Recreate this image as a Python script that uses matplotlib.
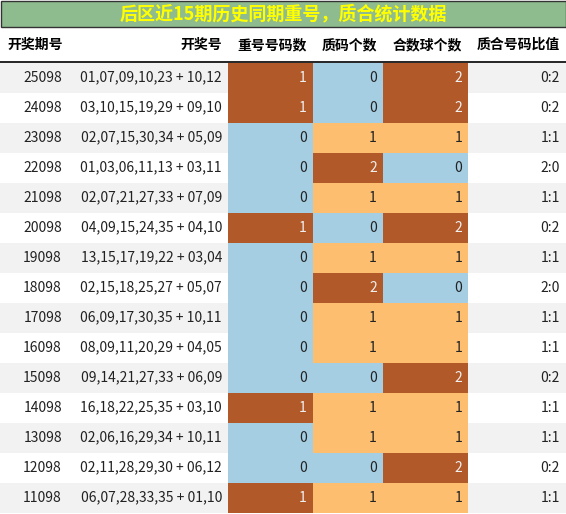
import matplotlib.pyplot as plt
from matplotlib.patches import Rectangle

plt.rcParams['font.family'] = ['Noto Sans CJK SC', 'DejaVu Sans']

title = '后区近15期历史同期重号，质合统计数据'
headers = ['开奖期号', '开奖号', '重号号码数', '质码个数', '合数球个数', '质合号码比值']
periods = ['25098', '24098', '23098', '22098', '21098', '20098', '19098', '18098',
           '17098', '16098', '15098', '14098', '13098', '12098', '11098']
numbers = ['01,07,09,10,23 + 10,12', '03,10,15,19,29 + 09,10', '02,07,15,30,34 + 05,09',
           '01,03,06,11,13 + 03,11', '02,07,21,27,33 + 07,09', '04,09,15,24,35 + 04,10',
           '13,15,17,19,22 + 03,04', '02,15,18,25,27 + 05,07', '06,09,17,30,35 + 10,11',
           '08,09,11,20,29 + 04,05', '09,14,21,27,33 + 06,09', '16,18,22,25,35 + 03,10',
           '02,06,16,29,34 + 10,11', '02,11,28,29,30 + 06,12', '06,07,28,33,35 + 01,10']
repeat = [1, 1, 0, 0, 0, 1, 0, 0, 0, 0, 0, 1, 0, 0, 1]
prime = [0, 0, 1, 2, 1, 0, 1, 2, 1, 1, 0, 1, 1, 0, 1]
composite = [2, 2, 1, 0, 1, 2, 1, 0, 1, 1, 2, 1, 1, 2, 1]
ratio = ['0:2', '0:2', '1:1', '2:0', '1:1', '0:2', '1:1', '2:0',
         '1:1', '1:1', '0:2', '1:1', '1:1', '0:2', '1:1']

BLUE, ORANGE, BROWN = '#a6cee3', '#fdbf6f', '#b15928'

def cell_color(v, vals):
    lo, hi = min(vals), max(vals)
    if v == hi:
        return BROWN
    if v == lo:
        return BLUE
    return ORANGE

W, H = 566, 514
fig = plt.figure(figsize=(W / 100, H / 100), dpi=100)
ax = fig.add_axes([0, 0, 1, 1])
ax.set_xlim(0, W)
ax.set_ylim(H, 0)
ax.axis('off')

# title bar
ax.add_patch(Rectangle((0.5, 0.5), W - 1, 26, facecolor='#8fbc8f', edgecolor='#333333', lw=1))
ax.text(W / 2, 14, title, color='#ffff00', fontsize=13, fontweight='bold', ha='center', va='center')

col_x = [0, 68, 228, 313, 383, 468, 566]
head_y0, head_y1 = 27, 62
for i, h in enumerate(headers):
    if i == 0:
        ax.text(7, 45, h, fontsize=10, fontweight='bold', ha='left', va='center')
    else:
        ax.text(col_x[i + 1] - 6, 45, h, fontsize=10, fontweight='bold', ha='right', va='center')
ax.plot([0, W], [head_y1, head_y1], color='black', lw=1.2)

row_h = 30
for r in range(len(periods)):
    y0 = head_y1 + 0.5 + r * row_h
    yc = y0 + row_h / 2
    if r % 2 == 0:
        ax.add_patch(Rectangle((0, y0), W, row_h, facecolor='#f2f2f2', lw=0))
    for c, vals in zip([2, 3, 4], [repeat, prime, composite]):
        col = cell_color(vals[r], vals)
        ax.add_patch(Rectangle((col_x[c], y0), col_x[c + 1] - col_x[c], row_h, facecolor=col, lw=0))
        ax.text(col_x[c + 1] - 6, yc, str(vals[r]), fontsize=10, ha='right', va='center',
                color='#f0f0f0' if col == BROWN else '#222222')
    ax.text(col_x[1] - 6, yc, periods[r], fontsize=10, ha='right', va='center', color='#222222')
    ax.text(col_x[2] - 6, yc, numbers[r], fontsize=10, ha='right', va='center', color='#222222')
    ax.text(col_x[6] - 6, yc, ratio[r], fontsize=10, ha='right', va='center', color='#222222')

fig.savefig('out.png', dpi=100)
